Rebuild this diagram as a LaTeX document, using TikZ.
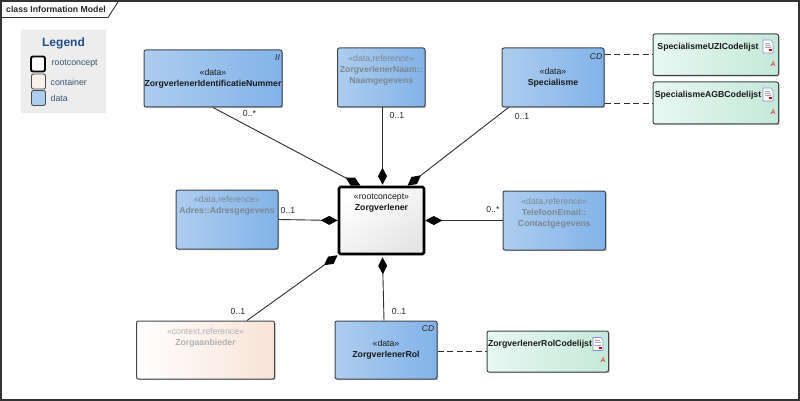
\documentclass[tikz,border=0pt]{standalone}
\usepackage{fontspec}
\setmainfont{Liberation Sans}
\usetikzlibrary{arrows.meta,shadows,calc}
\definecolor{bdr}{HTML}{3F464C}
\definecolor{lnk}{HTML}{2E2E2E}
\definecolor{dataL}{HTML}{ADCDEF}
\definecolor{dataR}{HTML}{82B3E9}
\definecolor{greenL}{HTML}{E8F8F2}
\definecolor{greenR}{HTML}{C4E8D9}
\definecolor{ctxR}{HTML}{F8E3D6}
\definecolor{refgrey}{HTML}{7E8790}
\definecolor{ctxgrey}{HTML}{B0B0B0}
\definecolor{legblue}{HTML}{1F4E86}
\definecolor{legtxt}{HTML}{33536F}
\tikzset{
  x=1pt,y=-1pt,
  basebox/.style={draw=bdr,line width=1pt,rounded corners=2pt,inner sep=0pt,
    drop shadow={shadow xshift=1.2pt,shadow yshift=-1.2pt,opacity=.25,fill=black}},
  databox/.style={basebox,left color=dataL,right color=dataR},
  greenbox/.style={basebox,left color=greenL,right color=greenR},
  ctxbox/.style={basebox,left color=white,right color=ctxR},
  rootbox/.style={draw=black,line width=2.6pt,rounded corners=1.5pt,inner sep=0pt,
    top color=white,bottom color=black!10,shading angle=35,
    drop shadow={shadow xshift=1.2pt,shadow yshift=-1.2pt,opacity=.25,fill=black}},
  txt/.style={align=center,inner sep=0pt,font=\fontsize{8.7}{11}\selectfont,text=black!90},
  reft/.style={txt,text=refgrey},
  ctxt/.style={txt,text=ctxgrey},
  mult/.style={inner sep=.6pt,fill=white,font=\fontsize{8.7}{9}\selectfont,text=black!85},
  tagt/.style={inner sep=0pt,font=\fontsize{8.5}{9}\selectfont\itshape,text=black!85},
  comp/.style={draw=lnk,line width=.9pt,-{Diamond[length=17pt,width=9pt,fill=black,line width=0pt]}},
  dep/.style={draw=lnk,line width=.9pt,dash pattern=on 6pt off 3.5pt},
  docicon/.pic={
    \draw[draw=black!30!blue!45,fill=white,line width=.6pt] (0,0) -- (7.5,0) -- (10,2.5) -- (10,13) -- (0,13) -- cycle;
    \draw[draw=black!35,line width=.5pt] (2,3) -- (6.5,3) (2,5.2) -- (8,5.2) (2,7.4) -- (8,7.4);
    \fill[red!85!black] (5.5,9.5) rectangle (8.5,11);
  },
  redA/.style={inner sep=0pt,font=\fontsize{6.5}{6.5}\selectfont\itshape,text=red!85!black},
  legbox/.style={draw=black!70,rounded corners=2pt,inner sep=0pt,minimum width=14pt,minimum height=15pt},
  legt/.style={anchor=west,inner sep=0pt,font=\fontsize{8.8}{9}\selectfont,text=legtxt},
}
\begin{document}
\begin{tikzpicture}
\useasboundingbox (0,0) rectangle (800,401);
\fill[white] (0,0) rectangle (800,401);
% frame
\draw[draw=black!80,line width=1.4pt] (1,1) rectangle (799,400);
\draw[draw=black!80,line width=.9pt] (1.5,17.5) -- (108,17.5) -- (118,2);
\node[inner sep=0pt,anchor=west,font=\fontsize{8.7}{9}\selectfont\bfseries,text=black!85] (title) at (6,9) {class Information Model};
% legend
\node[fill=black!7,draw=black!10,rounded corners=2pt,minimum width=85pt,minimum height=83pt,inner sep=0pt] (legend) at (63.5,71.5) {};
\node[inner sep=0pt,font=\fontsize{12}{13}\selectfont\bfseries,text=legblue] (legtitle) at (63.5,43) {Legend};
\node[legbox,draw=black,line width=1.9pt,fill=white,minimum width=14pt,minimum height=15pt] (lroot) at (38,64) {};
\node[legbox,line width=.9pt,fill=ctxR!50!white] (lcont) at (38.5,81.5) {};
\node[legbox,line width=.9pt,fill=dataL] (ldata) at (38.5,98) {};
\node[legt] (lroott) at (51.5,64) {rootconcept};
\node[legt] (lcontt) at (50.5,82) {container};
\node[legt] (ldatat) at (50.5,98) {data};
% boxes
\node[databox,minimum width=138pt,minimum height=57pt,
  label={[txt,yshift=-.5pt]center:{«data»\\\textbf{ZorgverlenerIdentificatieNummer}}}] (ident) at (213,78.5) {};
\node[databox,minimum width=87.5pt,minimum height=59pt,
  label={[reft,yshift=7.5pt]center:{«data,reference»\\\textbf{ZorgverlenerNaam::}\\\textbf{Naamgegevens}}}] (naam) at (381.25,77.5) {};
\node[databox,minimum width=102pt,minimum height=59pt,
  label={[txt]center:{«data»\\\textbf{Specialisme}}}] (spec) at (553,77.5) {};
\node[greenbox,minimum width=125.5pt,minimum height=41.5pt] (uzi) at (715.75,54.75) {};
\node[greenbox,minimum width=125.5pt,minimum height=42pt] (agb) at (715.75,103) {};
\node[databox,minimum width=102pt,minimum height=59pt,
  label={[reft,yshift=13.5pt]center:{«data,reference»\\\textbf{Adres::Adresgegevens}}}] (adres) at (227,219.5) {};
\node[rootbox,minimum width=85pt,minimum height=67pt,
  label={[txt,yshift=17pt]center:{«rootconcept»\\\textbf{Zorgverlener}}}] (main) at (381.5,220.5) {};
\node[databox,minimum width=102.5pt,minimum height=59pt,
  label={[reft,yshift=7.5pt]center:{«data,reference»\\\textbf{TelefoonEmail::}\\\textbf{Contactgegevens}}}] (tel) at (554.25,220.5) {};
\node[ctxbox,minimum width=138pt,minimum height=58pt,
  label={[ctxt,yshift=12pt]center:{«context,reference»\\\textbf{Zorgaanbieder}}}] (zorg) at (205.5,350) {};
\node[databox,minimum width=102pt,minimum height=58pt,
  label={[txt]center:{«data»\\\textbf{ZorgverlenerRol}}}] (rol) at (386,350) {};
\node[greenbox,minimum width=121.5pt,minimum height=41pt] (rcode) at (547.75,351.5) {};
% codelist texts
\node[txt] (uzit) at (708,47) {\textbf{SpecialismeUZICodelijst}};
\node[txt] (agbt) at (708,95) {\textbf{SpecialismeAGBCodelijst}};
\node[txt] (rcodet) at (540,344.5) {\textbf{ZorgverlenerRolCodelijst}};
\pic at (763,40) {docicon};
\pic at (763,88) {docicon};
\pic at (593,337.5) {docicon};
\node[redA] (a1) at (773,64) {A};
\node[redA] (a2) at (773,112) {A};
\node[redA] (a3) at (603,360.5) {A};
% tags
\node[tagt] (t1) at (277.5,58) {II};
\node[tagt] (t2) at (596,56.5) {CD};
\node[tagt] (t3) at (428,329) {CD};
% connectors
\coordinate (mA) at ($(main.north)+(-21,0)$);
\coordinate (mB) at ($(main.north)+(1,-1)$);
\coordinate (mC) at ($(main.north)+(26,0)$);
\coordinate (mD) at ($(main.south west)+(0,0)$);
\coordinate (mE) at ($(main.south)+(1,2)$);
\coordinate (iS) at ($(spec.south west)+(7,0)$);
\coordinate (zT) at ($(zorg.north east)+(-28,0)$);
\coordinate (nB) at ($(naam.south)+(1.25,0)$);
\coordinate (rT) at ($(rol.north)+(-2,0)$);
\draw[comp] (ident.south) -- (mA);
\draw[comp] (nB) -- (mB);
\draw[comp] (iS) -- (mC);
\draw[comp] (adres.east) -- (main.west);
\draw[comp] (tel.west) -- (main.east);
\draw[comp] (zT) -- (mD);
\draw[comp] (rT) -- (mE);
\draw[dep] (spec.east |- uzi.west) -- (uzi.west);
\draw[dep] (spec.east |- agb.west) -- (agb.west);
\draw[dep] (rol.east |- rcode.west) -- (rcode.west);
% multiplicities
\node[mult] (m1) at (249.5,114) {0..*};
\node[mult] (m2) at (397,116) {0..1};
\node[mult] (m3) at (522,117) {0..1};
\node[mult] (m4) at (288,211) {0..1};
\node[mult] (m5) at (493,209.5) {0..*};
\node[mult] (m6) at (238,312) {0..1};
\node[mult] (m7) at (399,312) {0..1};
\end{tikzpicture}
\end{document}
